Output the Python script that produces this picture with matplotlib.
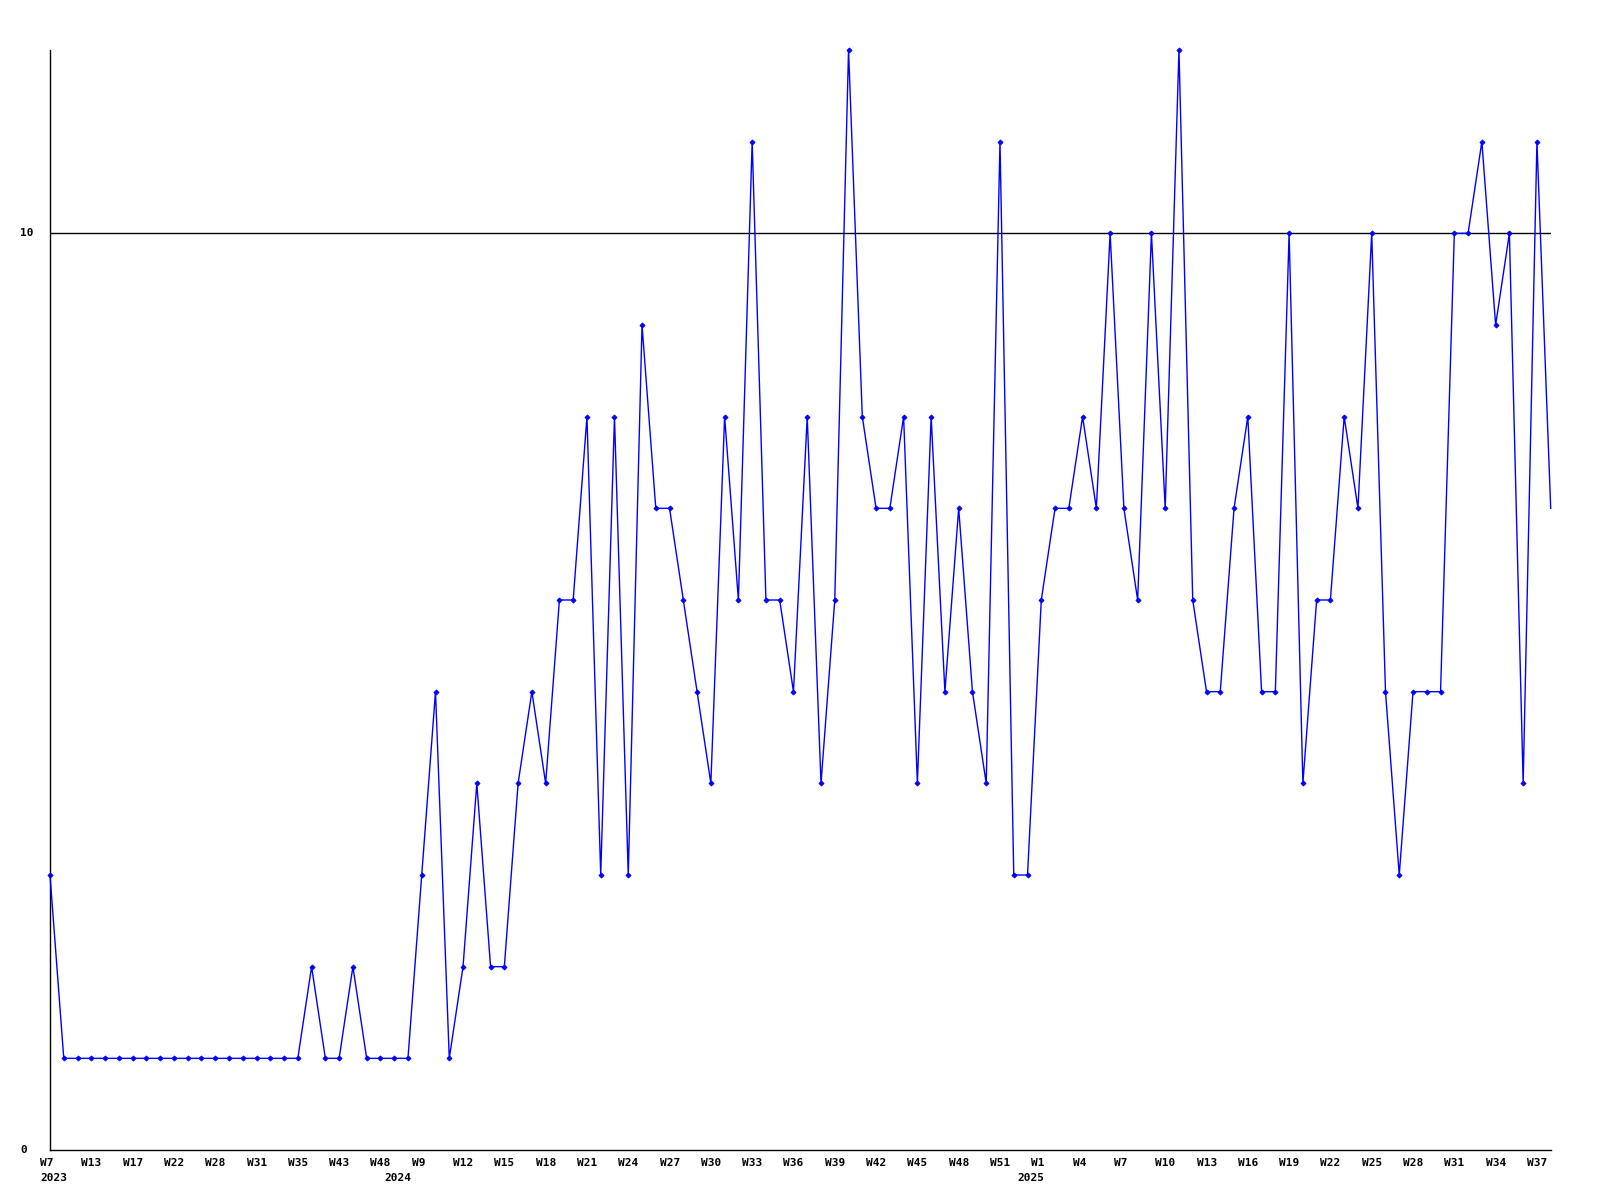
import numpy as np
import matplotlib as mpl
mpl.use('Agg')
import matplotlib.pyplot as plt
from matplotlib.transforms import ScaledTranslation

# weekly values, one per data point
values = [3, 1, 1, 1, 1, 1, 1, 1, 1, 1, 1, 1, 1, 1, 1, 1, 1, 1, 1, 2,
          1, 1, 2, 1, 1, 1, 1, 3, 5, 1, 2, 4, 2, 2, 4, 5, 4, 6, 6, 8,
          3, 8, 3, 9, 7, 7, 6, 5, 4, 8, 6, 11, 6, 6, 5, 8, 4, 6, 12, 8,
          7, 7, 8, 4, 8, 5, 7, 5, 4, 11, 3, 3, 6, 7, 7, 8, 7, 10, 7, 6,
          10, 7, 12, 6, 5, 5, 7, 8, 5, 5, 10, 4, 6, 6, 8, 7, 10, 5, 3, 5,
          5, 5, 10, 10, 11, 9, 10, 4, 11, 7]

week_labels = ["W7", "W13", "W17", "W22", "W28", "W31", "W35", "W43", "W48",
               "W9", "W12", "W15", "W18", "W21", "W24", "W27", "W30", "W33",
               "W36", "W39", "W42", "W45", "W48", "W51",
               "W1", "W4", "W7", "W10", "W13", "W16", "W19", "W22", "W25",
               "W28", "W31", "W34", "W37"]
years = ["2023", "2024", "2025"]
year_start = [0, 25, 71]

x = np.arange(len(values))
font = dict(family='DejaVu Sans Mono', fontweight='bold', fontsize=8)

fig = plt.figure(figsize=(16, 12), dpi=100)
ax = fig.add_axes([50/1600, 50/1200, 1500.7/1600, 1100/1200])

ax.axhline(10, color='black', lw=1.0, zorder=1)
# last point is drawn without a marker in the original
ax.plot(x, values, color='#0000ff', lw=1.0, marker='D', markersize=2.6,
        markeredgewidth=0.6, markevery=list(range(len(values) - 1)),
        zorder=3, clip_on=False)

ax.set_xlim(0, len(values) - 1)
ax.set_ylim(0, 12)
for s in ['top', 'right']:
    ax.spines[s].set_visible(False)
for s in ['left', 'bottom']:
    ax.spines[s].set_linewidth(1.0)

ax.set_yticks([])
for v in [0, 10]:
    ax.annotate(str(v), xy=(20, v), xycoords=('figure pixels', 'data'),
                ha='left', va='center', **font)

ax.set_xticks(x[::3])
ax.set_xticklabels(week_labels, ha='left', **font)
ax.tick_params(axis='x', length=0, pad=6.0)
off = ScaledTranslation(-10/100, 0, fig.dpi_scale_trans)
for lab in ax.get_xticklabels():
    lab.set_transform(lab.get_transform() + off)

for yr, i in zip(years, year_start):
    ax.annotate(yr, xy=(i, 0), xycoords=('data', 'axes fraction'),
                xytext=(-10*0.72, -23*0.72), textcoords='offset points',
                ha='left', va='top', **font)

plt.savefig('out.png')
plt.close()
